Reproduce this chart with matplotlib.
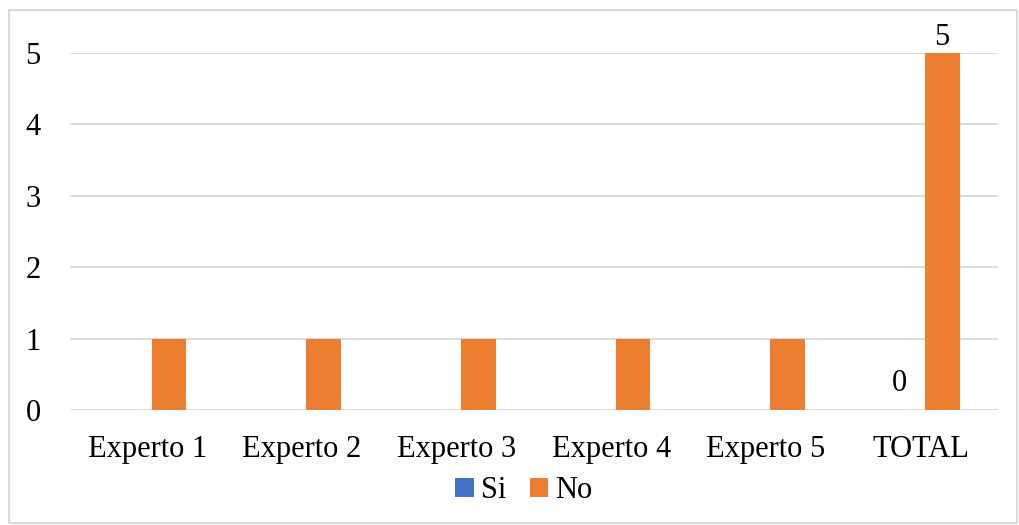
import numpy as np
import matplotlib
matplotlib.use("Agg")
import matplotlib.pyplot as plt
from matplotlib.patches import Rectangle

plt.rcParams["font.family"] = ["Liberation Serif", "DejaVu Serif"]

categories = ["Experto 1", "Experto 2", "Experto 3", "Experto 4", "Experto 5", "TOTAL"]
si_values = [0, 0, 0, 0, 0, 0]
no_values = [1, 1, 1, 1, 1, 5]
labelled = [5]   # only the TOTAL group carries data labels

BLUE, ORANGE, GRID = "#4472C4", "#ED7D31", "#D9D9D9"

fig = plt.figure(figsize=(10.19, 5.25), dpi=100)
ax = fig.add_axes([70 / 1019, 1 - 410 / 525, 928 / 1019, 357 / 525])

x = np.arange(len(categories))
w = 0.225
gap = 0.027
si_bars = ax.bar(x - gap - w / 2, si_values, w, color=BLUE, label="Si", zorder=2)
no_bars = ax.bar(x + gap + w / 2, no_values, w, color=ORANGE, label="No", zorder=2)

for i in labelled:
    ax.text(si_bars[i].get_x() + w / 2, si_values[i] + 0.17, str(si_values[i]),
            ha="center", va="bottom", fontsize=22)
    ax.text(no_bars[i].get_x() + w / 2, no_values[i] + 0.02, str(no_values[i]),
            ha="center", va="bottom", fontsize=22)

ax.set_xlim(-0.5, len(categories) - 0.5)
ax.set_ylim(0, 5)
ax.set_yticks(range(6))
ax.set_xticks(x)
ax.set_xticklabels(categories)
ax.tick_params(axis="both", length=0, labelsize=22)
ax.tick_params(axis="x", pad=18)
ax.tick_params(axis="y", pad=32)
for lbl in ax.get_yticklabels():
    lbl.set_horizontalalignment("left")
ax.yaxis.grid(True, color=GRID, lw=1.3, zorder=0)
for s in ax.spines.values():
    s.set_visible(False)
ax.axhline(0, color=GRID, lw=1.3, zorder=1)

ax.legend(loc="center", bbox_to_anchor=(524 / 1019, (525 - 491) / 525),
          bbox_transform=fig.transFigure, ncol=2, frameon=False, fontsize=22,
          handlelength=0.6, handleheight=0.6, handletextpad=0.25,
          columnspacing=0.75, borderpad=0)

# chart frame
fig.patches.append(Rectangle((9 / 1019, 2 / 525), 1008 / 1019, 513 / 525,
                             transform=fig.transFigure, fill=False,
                             edgecolor=GRID, lw=1.5))

fig.savefig("out.png", dpi=100)
